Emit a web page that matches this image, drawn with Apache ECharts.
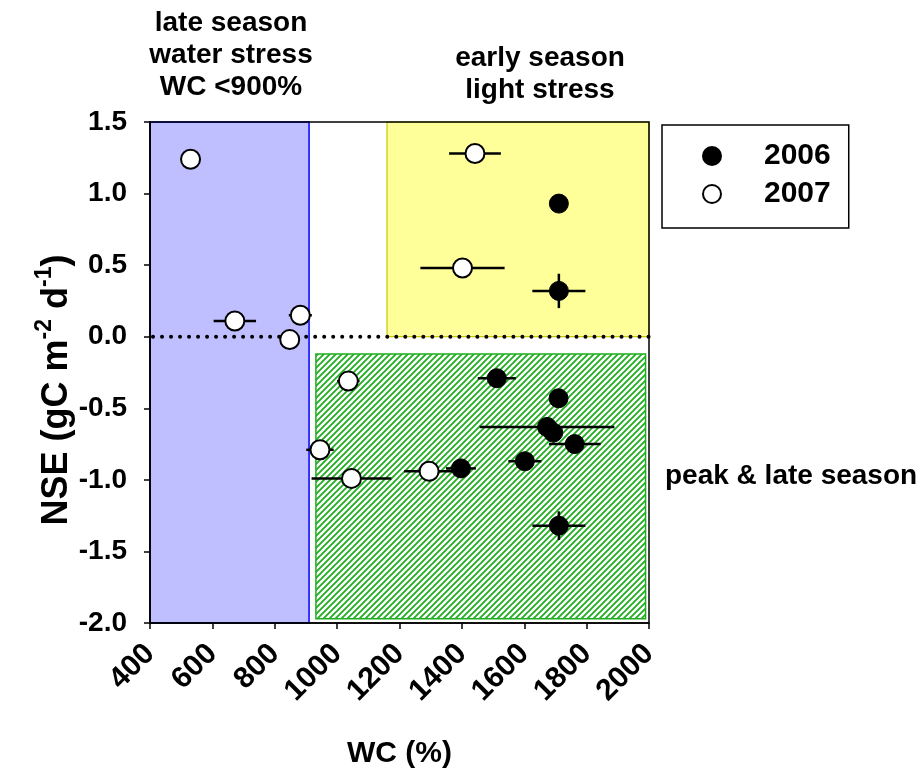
<!DOCTYPE html>
<html><head><meta charset="utf-8">
<script src="https://cdn.jsdelivr.net/npm/echarts@6/dist/echarts.min.js"></script>
<style>html,body{margin:0;padding:0;background:#fff}#c{width:920px;height:769px}</style>
</head><body><div id="c"></div>
<script>
// ---- data ----
const seriesNames = ['2006', '2007'];
const wc2006 = [1711, 1711, 1512, 1710, 1673, 1693, 1762, 1602, 1397, 1711];
const nse2006 = [0.93, 0.32, -0.29, -0.43, -0.63, -0.67, -0.75, -0.87, -0.92, -1.32];
const wcErr2006 = [0, 85, 61, 0, 216, 0, 83, 53, 48, 85];
const nseErr2006 = [0.03, 0.12, 0, 0, 0, 0, 0, 0, 0, 0.1];
const wc2007 = [530, 1442, 1402, 672, 882, 848, 1036, 945, 1046, 1295];
const nse2007 = [1.24, 1.28, 0.48, 0.11, 0.15, -0.02, -0.31, -0.79, -0.99, -0.94];
const wcErr2007 = [0, 83, 135, 68, 37, 0, 36, 44, 128, 80];
const nseErr2007 = [0, 0, 0, 0, 0, 0, 0, 0, 0, 0];
// shaded regions (data coordinates)
const regionNames = ['water stress', 'light stress', 'peak & late season'];
const regionX0 = [400, 1160, 932];
const regionX1 = [910, 2000, 1989];
const regionY0 = [-2.0, 0.0, -1.97];
const regionY1 = [1.5, 1.5, -0.12];
const zeroLine = [400, 2000, 0];
const xMin = 400, xMax = 2000, xStep = 200;
const yMin = -2.0, yMax = 1.5, yStep = 0.5;

// ---- chart ----
const FONT = 'Liberation Sans, Arial, sans-serif';
const hatch = document.createElement('canvas');
hatch.width = 6; hatch.height = 6;
(function(){
  const g = hatch.getContext('2d');
  g.fillStyle = '#fff'; g.fillRect(0,0,6,6);
  g.strokeStyle = '#1fae1f'; g.lineWidth = 1.8;
  g.beginPath();
  g.moveTo(-1,7); g.lineTo(7,-1);
  g.moveTo(-4,4); g.lineTo(4,-4);
  g.moveTo(2,10); g.lineTo(10,2);
  g.stroke();
})();
const regionStyles = [
  {fill: '#bfbfff', stroke: '#0000ff', lineWidth: 1.5},
  {fill: '#ffff99', stroke: '#c8c800', lineWidth: 1.2},
  {fill: {image: hatch, repeat: 'repeat'}, stroke: '#1fae1f', lineWidth: 1.5}
];
const regionData = regionNames.map((n, i) => [regionX0[i], regionX1[i], regionY0[i], regionY1[i], i]);

function zip(a, b) { return a.map((v, i) => [v, b[i]]); }
function errData(x, y, ex, ey) { return x.map((v, i) => [v, y[i], ex[i], ey[i]]); }
function errRender(params, api) {
  const x = api.value(0), y = api.value(1), ex = api.value(2), ey = api.value(3);
  const ch = [];
  const st = {stroke: '#000', lineWidth: 2.5};
  if (ex > 0) {
    const a = api.coord([x - ex, y]), b = api.coord([x + ex, y]);
    ch.push({type: 'line', shape: {x1: a[0], y1: a[1], x2: b[0], y2: b[1]}, style: st});
  }
  if (ey > 0) {
    const a = api.coord([x, y - ey]), b = api.coord([x, y + ey]);
    ch.push({type: 'line', shape: {x1: a[0], y1: a[1], x2: b[0], y2: b[1]}, style: st});
  }
  return {type: 'group', children: ch};
}

const chart = echarts.init(document.getElementById('c'), null, {renderer: 'canvas'});
const axisLineStyle = {color: '#000', width: 1.5};
chart.setOption({
  animation: false,
  backgroundColor: '#fff',
  textStyle: {fontFamily: FONT},
  grid: {left: 150, top: 122, width: 499, height: 501, show: true, borderColor: '#000', borderWidth: 1.5, z: 2,
    containLabel: false, outerBoundsMode: 'none'},
  xAxis: {
    type: 'value', min: xMin, max: xMax, interval: xStep, z: 2, position: 'bottom',
    name: 'WC (%)', nameLocation: 'middle', nameGap: 116,
    nameTextStyle: {fontSize: 30, fontWeight: 'bold', color: '#000', fontFamily: FONT},
    axisLine: {show: true, onZero: false, lineStyle: axisLineStyle},
    axisTick: {show: true, length: 6, lineStyle: axisLineStyle},
    axisLabel: {rotate: 45, margin: 26, fontSize: 30, fontWeight: 'bold', color: '#000', fontFamily: FONT,
      formatter: v => String(v)},
    splitLine: {show: false}
  },
  yAxis: {
    type: 'value', min: yMin, max: yMax, interval: yStep, z: 2, position: 'left',
    axisLine: {show: true, onZero: false, lineStyle: axisLineStyle},
    axisTick: {show: true, length: 6, lineStyle: axisLineStyle},
    axisLabel: {margin: 23, fontSize: 28, fontWeight: 'bold', color: '#000', fontFamily: FONT,
      formatter: v => v.toFixed(1)},
    splitLine: {show: false}
  },
  legend: {
    data: seriesNames, orient: 'vertical', left: 662, top: 125,
    padding: [16, 18, 19, 40], itemGap: 8, itemWidth: 18, itemHeight: 18,
    borderColor: '#000', borderWidth: 1.5, backgroundColor: '#fff',
    textStyle: {fontSize: 30, fontWeight: 'bold', color: '#000', fontFamily: FONT, padding: [0, 0, 0, 38]}
  },
  graphic: [
    {type: 'text', x: 231, y: 7, z: 10,
      style: {text: 'late season\nwater stress\nWC <900%', fontSize: 28, fontWeight: 'bold', fontFamily: FONT,
        fill: '#000', align: 'center', lineHeight: 32}},
    {type: 'text', x: 540, y: 42, z: 10,
      style: {text: 'early season\nlight stress', fontSize: 28, fontWeight: 'bold', fontFamily: FONT,
        fill: '#000', align: 'center', lineHeight: 32}},
    {type: 'text', x: 665, y: 476, z: 10,
      style: {text: 'peak & late season', fontSize: 28, fontWeight: 'bold', fontFamily: FONT,
        fill: '#000', align: 'left', verticalAlign: 'middle'}},
    {type: 'text', x: 54, y: 390, rotation: Math.PI / 2, z: 10,
      style: {text: '{m|NSE (gC m}{s|-2}{m| d}{s|-1}{m|)}', align: 'center', verticalAlign: 'middle',
        fill: '#000',
        rich: {
          m: {fontSize: 36, fontWeight: 'bold', fontFamily: FONT, fill: '#000', lineHeight: 42, verticalAlign: 'bottom'},
          s: {fontSize: 23, fontWeight: 'bold', fontFamily: FONT, fill: '#000', lineHeight: 42, verticalAlign: 'top'}
        }}}
  ],
  series: [
    {
      type: 'custom', name: 'regions', z: 1, silent: true,
      encode: {x: [0, 1], y: [2, 3]},
      data: regionData,
      renderItem: function (params, api) {
        const i = api.value(4);
        const p0 = api.coord([api.value(0), api.value(3)]);
        const p1 = api.coord([api.value(1), api.value(2)]);
        const s = regionStyles[i];
        return {type: 'rect', shape: {x: p0[0], y: p0[1], width: p1[0] - p0[0], height: p1[1] - p0[1]},
          style: {fill: s.fill, stroke: s.stroke, lineWidth: s.lineWidth}};
      }
    },
    {
      type: 'custom', name: 'zero', z: 4, silent: true,
      encode: {x: [0, 1], y: 2},
      data: [zeroLine],
      renderItem: function (params, api) {
        const a = api.coord([api.value(0), api.value(2)]);
        const b = api.coord([api.value(1), api.value(2)]);
        return {type: 'line', shape: {x1: a[0] + 3, y1: a[1], x2: b[0], y2: b[1]},
          style: {stroke: '#000', lineWidth: 4, lineDash: [0.01, 9], lineCap: 'round'}};
      }
    },
    {type: 'custom', name: 'err2007', z: 3, encode: {x: 0, y: 1}, renderItem: errRender,
      data: errData(wc2007, nse2007, wcErr2007, nseErr2007)},
    {type: 'custom', name: 'err2006', z: 3, encode: {x: 0, y: 1}, renderItem: errRender,
      data: errData(wc2006, nse2006, wcErr2006, nseErr2006)},
    {type: 'scatter', name: '2007', z: 5, symbol: 'circle', symbolSize: 19,
      itemStyle: {color: '#fff', borderColor: '#000', borderWidth: 2, opacity: 1},
      data: zip(wc2007, nse2007)},
    {type: 'scatter', name: '2006', z: 5, symbol: 'circle', symbolSize: 19,
      itemStyle: {color: '#000', borderColor: '#000', borderWidth: 1, opacity: 1},
      data: zip(wc2006, nse2006)}
  ]
});
</script></body></html>
